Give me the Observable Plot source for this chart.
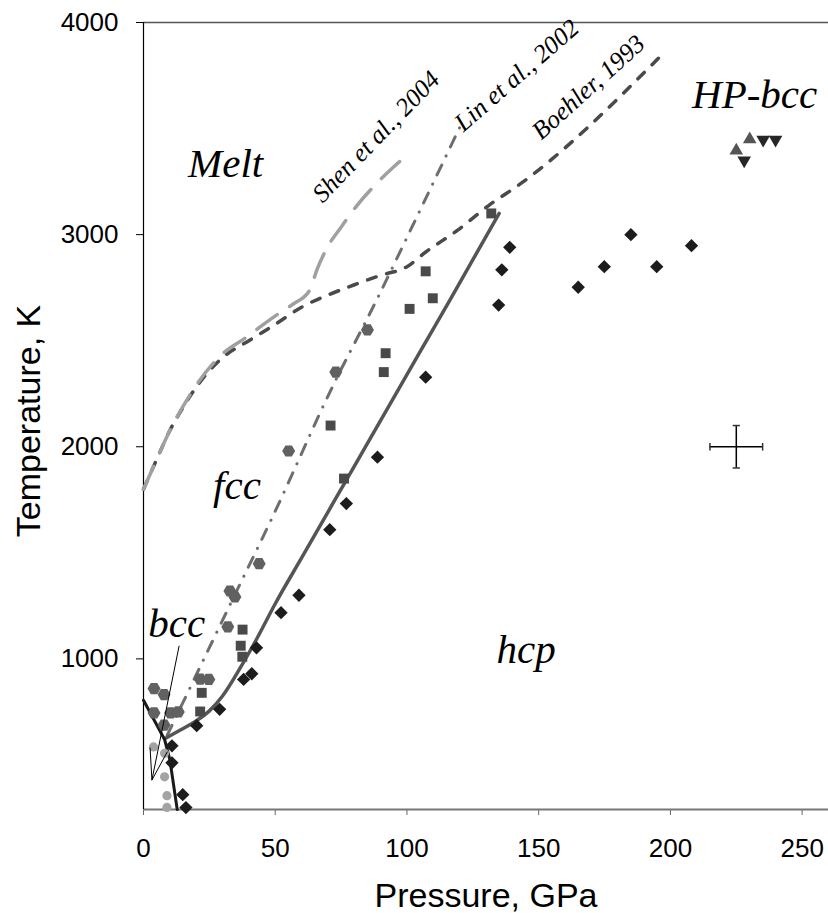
<!DOCTYPE html>
<html>
<head>
<meta charset="utf-8">
<script src="https://cdn.jsdelivr.net/npm/d3@7"></script>
<script src="https://cdn.jsdelivr.net/npm/@observablehq/plot@0.6"></script>
<style>
  html, body { margin: 0; padding: 0; background: #fff; }
  #chart svg { display: block; }
</style>
</head>
<body>
<div id="chart"></div>
<script>
// ---------- data ----------
const xTicks = [0, 50, 100, 150, 200, 250];
const yTicks = [1000, 2000, 3000, 4000];

// hcp points (black diamonds)
const hcpP = [16.1, 14.9, 10.8, 10.8, 20.2, 28.9, 38, 41.1, 42.9, 52.2, 59, 70.7, 77, 88.8, 107.1, 134.8, 136, 139, 165, 174.9, 185, 194.8, 208];
const hcpT = [299, 360, 510, 590, 685, 762, 903, 930, 1052, 1218, 1300, 1609, 1732, 1951, 2328, 2668, 2834, 2940, 2752, 2849, 3000, 2849, 2948];

// fcc points (dark grey squares)
const fccP = [21.5, 22.1, 36.9, 37.5, 37.6, 71, 76.1, 91.2, 91.9, 101, 107.1, 109.8, 132];
const fccT = [752, 840, 1062, 1010, 1138, 2100, 1850, 2352, 2441, 2650, 2827, 2700, 3100];

// other fcc points (grey hexagons)
const hexP = [4, 7.8, 4, 10.3, 13.2, 7.8, 21.5, 24.8, 32, 32.8, 34.7, 43.9, 55.1, 73, 85];
const hexT = [860, 832, 745, 745, 750, 688, 905, 903, 1151, 1320, 1292, 1449, 1980, 2352, 2551];

// bcc points (light grey circles)
const bccP = [3.8, 8, 8, 8.9, 8.9];
const bccT = [585, 555, 444, 355, 300];

// HP-bcc points
const upP = [225, 230.1];
const upT = [3396, 3449];
const downP = [228, 235.2, 239.9];
const downT = [3350, 3448, 3448];

// melting curves and phase boundaries
const shenP = [0, 5, 10, 15, 20, 30, 39, 44, 53, 57, 63, 66, 70, 75, 81, 88, 95, 101];
const shenT = [1800, 1940, 2077, 2190, 2290, 2438, 2516, 2563, 2642, 2674, 2737, 2840, 2945, 3035, 3137, 3235, 3320, 3385];

const boehlerP = [0, 5, 10, 15, 20, 30, 40, 50, 60, 70, 81, 90, 100, 107, 119, 131, 143, 197];
const boehlerT = [1800, 1940, 2077, 2185, 2281, 2420, 2500, 2577, 2658, 2715, 2768, 2808, 2849, 2917, 3019, 3137, 3239, 3851];

const linP = [9, 21, 34, 49, 72, 88, 104, 120];
const linT = [640, 950, 1285, 1670, 2290, 2680, 3090, 3505];

const fccHcpP = [8.2, 14, 20, 25, 30, 36.6, 43, 50, 60, 70, 80, 97, 105, 117, 135];
const fccHcpT = [625, 665, 708, 755, 825, 955, 1095, 1260, 1476, 1692, 1908, 2275, 2448, 2707, 3100];

const bccLineP = [0, 8, 10, 12.8];
const bccLineT = [805, 620, 525, 290];

// leader line from the "bcc" label and its small wedge
const leaderP = [13.5, 3.2];
const leaderT = [1060, 429];
const wedgeP = [2.5, 3.2, 9.0];
const wedgeT = [580, 429, 561];

// error bar
const errCenterP = 225, errCenterT = 2000, errP = 10, errT = 100;

// text
const regionNames = ["Melt", "HP-bcc", "fcc", "bcc", "hcp"];
const regionP = [16.9, 208.2, 26.4, 1.8, 134];
const regionT = [3273, 3598, 1752, 1102, 980];

const curveNames = ["Shen et al., 2004", "Lin et al., 2002", "Boehler, 1993"];
const curveP = [68, 121.5, 151];
const curveT = [3146, 3482, 3443];

const xTitle = "Pressure, GPa";
const yTitle = "Temperature, K";

// ---------- helpers ----------
const rows = (P, T) => P.map((p, i) => ({p, t: T[i]}));

const hexagon = {
  draw(ctx, size) {
    const r = Math.sqrt(size / Math.PI) * 1.08;
    for (let i = 0; i < 6; i++) {
      const a = i * Math.PI / 3;
      const x = r * Math.cos(a), y = r * Math.sin(a);
      if (i === 0) ctx.moveTo(x, y); else ctx.lineTo(x, y);
    }
    ctx.closePath();
  }
};
const bar = {
  draw(ctx, size) {
    const r = Math.sqrt(size / Math.PI);
    ctx.moveTo(-r, 0);
    ctx.lineTo(r, 0);
  }
};

const serif = "'Liberation Serif', 'Times New Roman', serif";
const sans = "'Liberation Sans', Arial, sans-serif";

const regions = regionNames.map((n, i) => ({n, p: regionP[i], t: regionT[i]}));
const curves = curveNames.map((n, i) => ({n, p: curveP[i], t: curveT[i]}));
const curveRot = [-46, -41, -42];
const yMin = 290, yMax = 4000;

const chart = Plot.plot({
  width: 828,
  height: 913,
  marginLeft: 143,
  marginRight: 0,
  marginTop: 22,
  marginBottom: 104,
  style: {background: "#fff", fontFamily: sans, color: "#000"},
  x: {domain: [0, 260], label: null},
  y: {domain: [yMin, yMax], label: null},
  marks: [
    // axes (ticks) and frame lines
    Plot.axisX({ticks: xTicks, tickSize: 6, stroke: "#666", tickFormat: () => "", label: null}),
    Plot.axisY({ticks: yTicks, tickSize: 7, stroke: "#000", tickFormat: () => "", label: null}),
    Plot.ruleY([yMax], {stroke: "#555", strokeWidth: 1.5}),
    Plot.ruleY([yMin], {stroke: "#777", strokeWidth: 2}),
    Plot.ruleX([0], {stroke: "#000", strokeWidth: 1.2}),

    // tick labels
    Plot.text(xTicks, {x: d => d, frameAnchor: "bottom", text: d => String(d), dy: 47, lineAnchor: "bottom", textAnchor: "middle", fontSize: 26, fontFamily: sans, fill: "#000"}),
    Plot.text(yTicks, {x: () => 0, y: d => d, text: d => String(d), dx: -25, lineAnchor: "middle", textAnchor: "end", fontSize: 26, fontFamily: sans, fill: "#000"}),

    // curves
    Plot.line(rows(boehlerP, boehlerT), {x: "p", y: "t", curve: "monotone-x", stroke: "#4a4a4a", strokeWidth: 3.5, strokeDasharray: "9,11", strokeLinecap: "round"}),
    Plot.line(rows(shenP, shenT), {x: "p", y: "t", curve: "monotone-x", stroke: "#a0a0a0", strokeWidth: 3.5, strokeDasharray: "25,15", strokeLinecap: "round"}),
    Plot.line(rows(linP, linT), {x: "p", y: "t", curve: "monotone-x", stroke: "#6e6e6e", strokeWidth: 3, strokeDasharray: "11,10,0.1,10", strokeLinecap: "round"}),
    Plot.line(rows(fccHcpP, fccHcpT), {x: "p", y: "t", curve: "monotone-x", stroke: "#555", strokeWidth: 3.5}),
    Plot.line(rows(bccLineP, bccLineT), {x: "p", y: "t", stroke: "#1a1a1a", strokeWidth: 3}),

    // points
    Plot.dot(rows(hexP, hexT), {x: "p", y: "t", symbol: hexagon, r: 6, fill: "#616161", stroke: "none"}),
    Plot.dot(rows(fccP, fccT), {x: "p", y: "t", symbol: "square", r: 5.6, fill: "#4a4a4a", stroke: "none"}),
    Plot.dot(rows(bccP, bccT), {x: "p", y: "t", symbol: "circle", r: 4.6, fill: "#a3a3a3", stroke: "none"}),
    Plot.dot(rows(hcpP, hcpT), {x: "p", y: "t", symbol: "diamond2", r: 6, fill: "#1c1c1c", stroke: "none"}),
    Plot.dot(rows(upP, upT), {x: "p", y: "t", symbol: "triangle2", r: 6.5, fill: "#555", stroke: "none"}),
    Plot.dot(rows(downP, downT), {x: "p", y: "t", symbol: "triangle2", rotate: 180, r: 6.5, fill: "#262626", stroke: "none"}),

    // leader lines
    Plot.line(rows(leaderP, leaderT), {x: "p", y: "t", stroke: "#000", strokeWidth: 1}),
    Plot.line(rows(wedgeP, wedgeT), {x: "p", y: "t", stroke: "#000", strokeWidth: 1}),

    // error bar
    Plot.ruleY([errCenterT], {x1: errCenterP - errP, x2: errCenterP + errP, y: d => d, stroke: "#000", strokeWidth: 1.5}),
    Plot.ruleX([errCenterP], {y1: errCenterT - errT, y2: errCenterT + errT, x: d => d, stroke: "#000", strokeWidth: 1.5}),
    Plot.dot([errCenterP - errP, errCenterP + errP], {x: d => d, y: () => errCenterT, symbol: bar, rotate: 90, r: 3.8, fill: "none", stroke: "#333", strokeWidth: 1.5}),
    Plot.dot([errCenterT - errT, errCenterT + errT], {x: () => errCenterP, y: d => d, symbol: bar, r: 3.6, fill: "none", stroke: "#333", strokeWidth: 1.5}),

    // region labels
    Plot.text(regions, {x: "p", y: "t", text: "n", textAnchor: "start", lineAnchor: "bottom", fontFamily: serif, fontStyle: "italic", fontSize: 41, fill: "#000"}),

    // curve labels
    ...curves.map((c, i) => Plot.text([c], {x: "p", y: "t", text: "n", textAnchor: "start", lineAnchor: "bottom", rotate: curveRot[i], fontFamily: serif, fontStyle: "italic", fontSize: 25.5, fill: "#000"})),

    // axis titles
    Plot.text([xTitle], {text: d => d, frameAnchor: "bottom", dy: 97, lineAnchor: "bottom", textAnchor: "middle", fontSize: 34, fontFamily: sans, fill: "#000"}),
    Plot.text([yTitle], {text: d => d, x: () => 0, frameAnchor: "left", dx: -104, dy: 5, rotate: -90, lineAnchor: "bottom", textAnchor: "middle", fontSize: 34, fontFamily: sans, fill: "#000"})
  ]
});

document.getElementById("chart").appendChild(chart);
</script>
</body>
</html>
